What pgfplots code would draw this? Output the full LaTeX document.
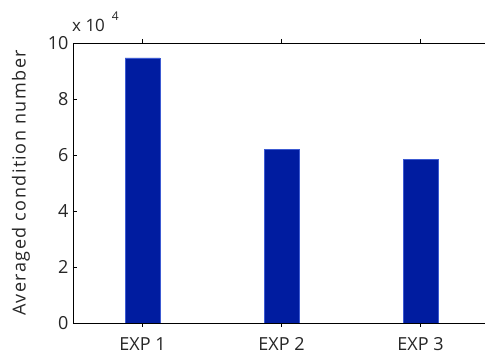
\documentclass[border=0pt]{standalone}
\usepackage{pgfplots}
\pgfplotsset{compat=1.18}
\usepackage{fontspec}
\setmainfont{Open Sans}
\newfontfamily\labelfont[LetterSpace=8]{Open Sans}
\definecolor{barfill}{RGB}{0,28,160}
\definecolor{baredge}{RGB}{60,90,210}
\begin{document}
\begin{tikzpicture}
\clip (-73pt,-35pt) rectangle (412pt,323pt);
\begin{axis}[
  at={(0,0)}, anchor=south west,
  scale only axis, width=416pt, height=280pt,
  xmin=0.5, xmax=3.493, ymin=0, ymax=100000,
  xtick={1,2,3}, xticklabels={EXP 1,EXP 2,EXP 3},
  ytick={0,20000,40000,60000,80000,100000},
  scaled y ticks=base 10:-4,
  ytick scale label code/.code={x 10\hspace{7pt}\raisebox{11pt}{\fontsize{12}{14}\selectfont #1}},
  every y tick scale label/.style={at={(0,1)}, anchor=south west, inner sep=0pt, yshift=11pt, font=\fontsize{17}{20}\selectfont, text=black!85},
  ytick pos=left,
  tick align=inside,
  major tick length=4pt,
  axis line style={line width=0.9pt},
  tick style={line width=0.8pt, black},
  /pgf/number format/assume math mode=true,
  tick label style={font=\fontsize{18}{21}\selectfont, text=black!85},
  yticklabel style={xshift=-1pt},
  xticklabel style={yshift=-7pt},
  ylabel={Averaged condition number},
  every axis y label/.style={at={(axis description cs:0,0.5)}, rotate=90, anchor=center, yshift=52pt, font=\labelfont\fontsize{18}{21}\selectfont, text=black!85},
  ybar, bar width=0.25,
]
\addplot[fill=barfill, draw=baredge, line width=0.5pt] coordinates {(1,94700) (2,61900) (3,58400)};
\end{axis}
\end{tikzpicture}
\end{document}
